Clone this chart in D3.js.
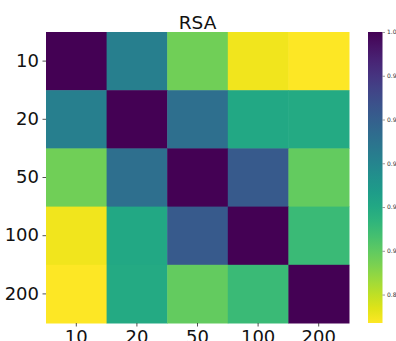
<!DOCTYPE html>
<html>
<head>
<meta charset="utf-8">
<script src="https://cdn.jsdelivr.net/npm/d3@7"></script>
<style>
  html, body { margin: 0; padding: 0; background: #fff; }
  svg { display: block; }
  text { font-family: "DejaVu Sans", sans-serif; }
</style>
</head>
<body>
<svg id="chart" width="396" height="341"></svg>
<script>
// Layer sizes compared by representational similarity
const categories = ["10", "20", "50", "100", "200"];

// Pairwise RSA similarity, one row per layer size
const row10  = [1.000, 0.943, 0.896, 0.870, 0.867];
const row20  = [0.943, 1.000, 0.952, 0.920, 0.919];
const row50  = [0.896, 0.952, 1.000, 0.963, 0.899];
const row100 = [0.870, 0.920, 0.963, 1.000, 0.910];
const row200 = [0.867, 0.919, 0.899, 0.910, 1.000];
const similarity = [row10, row20, row50, row100, row200];

// Colour bar ticks
const colorbarTicks = [0.88, 0.90, 0.92, 0.94, 0.96, 0.98, 1.00];

const title = "RSA";

const svg = d3.select("#chart");
const plot = { left: 46, right: 349, top: 32, bottom: 323 };
const bar = { left: 368, width: 14.5 };

const x = d3.scaleBand().domain(categories).range([plot.left, plot.right]).padding(0);
const y = d3.scaleBand().domain(categories).range([plot.top, plot.bottom]).padding(0);

const flat = similarity.flat();
const vmin = d3.min(flat), vmax = d3.max(flat);
// reversed viridis: high similarity is dark
const color = d3.scaleSequential(t => d3.interpolateViridis(1 - t)).domain([vmin, vmax]);

const cells = [];
similarity.forEach((row, i) => row.forEach((v, j) => cells.push({ r: categories[i], c: categories[j], v })));

svg.append("g").selectAll("rect")
  .data(cells)
  .join("rect")
  .attr("x", d => x(d.c))
  .attr("y", d => y(d.r))
  .attr("width", x.bandwidth() + 0.5)
  .attr("height", y.bandwidth() + 0.5)
  .attr("fill", d => color(d.v));

// Axes
const axisStyle = g => {
  g.select(".domain").remove();
  g.selectAll(".tick line").attr("stroke", "#262626").attr("stroke-width", 0.8);
  g.selectAll(".tick text").attr("fill", "#111").attr("font-size", 18)
    .attr("font-family", "'DejaVu Sans', sans-serif");
};

svg.append("g")
  .attr("transform", `translate(${plot.left},0)`)
  .call(d3.axisLeft(y).tickSize(3.5).tickPadding(3.5))
  .call(axisStyle);

svg.append("g")
  .attr("transform", `translate(0,${plot.bottom})`)
  .call(d3.axisBottom(x).tickSize(3.5).tickPadding(3.5))
  .call(axisStyle)
  .call(g => g.selectAll(".tick text").attr("dy", "0.71em"));

// Title
svg.append("text")
  .attr("x", (plot.left + plot.right) / 2)
  .attr("y", 29)
  .attr("text-anchor", "middle")
  .attr("font-size", 18.5)
  .attr("fill", "#111")
  .text(title);

// Colour bar
const cb = d3.scaleLinear().domain([vmin, vmax]).range([plot.bottom, plot.top]);
const defs = svg.append("defs");
const grad = defs.append("linearGradient")
  .attr("id", "cbgrad")
  .attr("x1", 0).attr("y1", 1).attr("x2", 0).attr("y2", 0);
d3.range(0, 1.0001, 0.05).forEach(t => {
  grad.append("stop")
    .attr("offset", t)
    .attr("stop-color", color(vmin + t * (vmax - vmin)));
});
svg.append("rect")
  .attr("x", bar.left)
  .attr("y", plot.top)
  .attr("width", bar.width)
  .attr("height", plot.bottom - plot.top)
  .attr("fill", "url(#cbgrad)");

svg.append("g")
  .attr("transform", `translate(${bar.left + bar.width},0)`)
  .call(d3.axisRight(cb).tickValues(colorbarTicks).tickFormat(d3.format(".2f")).tickSize(2.5).tickPadding(2))
  .call(g => {
    g.select(".domain").remove();
    g.selectAll(".tick line").attr("stroke", "#555").attr("stroke-width", 0.6);
    g.selectAll(".tick text").attr("fill", "#333").attr("font-size", 6)
      .attr("font-family", "'DejaVu Sans', sans-serif");
  });
</script>
</body>
</html>
